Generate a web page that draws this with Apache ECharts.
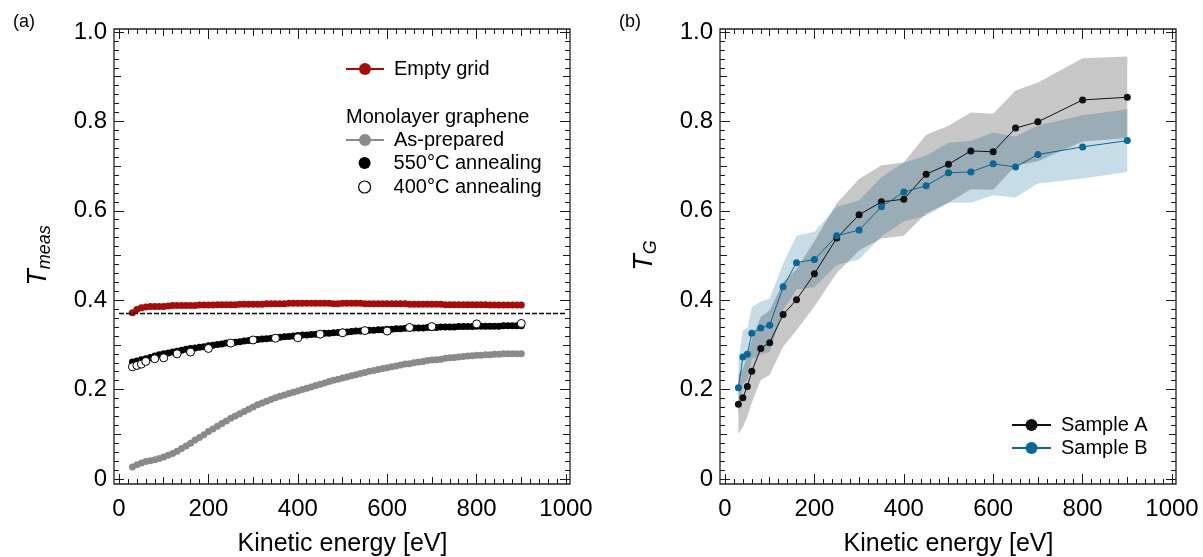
<!DOCTYPE html>
<html><head><meta charset="utf-8">
<script src="https://cdn.jsdelivr.net/npm/echarts@6/dist/echarts.min.js"></script>
<style>html,body{margin:0;padding:0;background:#fff}#c{width:1203px;height:557px}</style>
</head><body><div id="c"></div>
<script>
// ---------- data ----------
const energyFine = [
  30,40,50,60,70,80,90,100,110,120,
  130,140,150,160,170,180,190,200,210,220,
  230,240,250,260,270,280,290,300,310,320,
  330,340,350,360,370,380,390,400,410,420,
  430,440,450,460,470,480,490,500,510,520,
  530,540,550,560,570,580,590,600,610,620,
  630,640,650,660,670,680,690,700,710,720,
  730,740,750,760,770,780,790,800,810,820,
  830,840,850,860,870,880,890,900];
const emptyGrid = [
  .372,.379,.383,.385,.386,.386,.386,.386,.387,.388,
  .388,.388,.388,.388,.388,.389,.389,.389,.389,.390,
  .390,.390,.390,.390,.391,.391,.391,.391,.391,.391,
  .392,.392,.392,.392,.392,.393,.393,.393,.393,.393,
  .393,.393,.393,.393,.393,.392,.392,.393,.393,.393,
  .393,.393,.392,.392,.392,.392,.392,.392,.392,.392,
  .392,.392,.391,.391,.391,.391,.391,.391,.391,.391,
  .390,.390,.390,.390,.390,.390,.390,.390,.390,.390,
  .389,.389,.389,.389,.389,.389,.389,.389];
const asPrepared = [
  .027,.032,.036,.039,.041,.043,.046,.049,.053,.057,
  .062,.068,.074,.080,.087,.093,.099,.106,.112,.118,
  .124,.130,.136,.141,.146,.151,.156,.161,.166,.170,
  .174,.178,.182,.185,.188,.191,.194,.197,.200,.203,
  .206,.209,.212,.215,.218,.221,.223,.226,.228,.231,
  .233,.236,.238,.241,.243,.245,.247,.249,.251,.253,
  .255,.257,.258,.260,.262,.263,.265,.266,.267,.268,
  .270,.271,.272,.273,.274,.275,.276,.277,.277,.278,
  .278,.279,.279,.280,.280,.280,.280,.280];
const anneal550 = [
  .262,.264,.267,.269,.272,.275,.278,.280,.282,.284,
  .286,.288,.290,.292,.293,.295,.296,.298,.299,.301,
  .302,.304,.305,.306,.307,.309,.310,.311,.312,.313,
  .314,.315,.316,.317,.318,.319,.320,.321,.322,.322,
  .323,.324,.325,.326,.326,.327,.328,.329,.329,.330,
  .331,.331,.332,.333,.333,.334,.334,.335,.335,.336,
  .336,.337,.337,.338,.338,.338,.339,.339,.339,.340,
  .340,.340,.340,.341,.341,.341,.341,.342,.342,.342,
  .342,.342,.342,.343,.343,.343,.343,.343];
const energyCoarse = [30,40,50,60,80,100,130,160,200,250,300,350,400,450,500,550,600,650,700,800,900];
const anneal400 = [.251,.254,.257,.263,.269,.271,.280,.284,.292,.304,.311,.315,.316,.324,.327,.332,.331,.339,.341,.347,.348];
const sampleA    = [.167,.182,.207,.241,.292,.305,.368,.401,.459,.539,.591,.620,.626,.682,.704,.734,.732,.785,.799,.848,.854];
const sampleAErr = [.067,.065,.068,.070,.071,.072,.072,.068,.073,.078,.080,.082,.082,.088,.086,.086,.085,.084,.088,.093,.091];
const sampleB    = [.204,.273,.279,.326,.338,.344,.430,.484,.491,.544,.557,.609,.642,.656,.685,.687,.705,.698,.726,.743,.757];
const sampleBErr = [.060,.060,.058,.058,.059,.060,.052,.060,.062,.065,.066,.066,.066,.067,.067,.069,.070,.068,.065,.071,.070];
const xTickLabels = ['0','200','400','600','800','1000'];
const yTickLabels = ['0','0.2','0.4','0.6','0.8','1.0'];
const refLevel = 0.37;

// ---------- styling ----------
const FF = 'Liberation Sans, Arial, Helvetica, sans-serif';
const TC = '#1a1a1a';
const RED = '#a50d0d', GRAY = '#8a8a8a', BLUE = '#0b6796';

function xAxes(g) {
  const base = {gridIndex:g, type:'value', min:0, max:1000, splitLine:{show:false}, minorSplitLine:{show:false},
                axisLine:{show:false, onZero:false}};
  return [
    Object.assign({}, base, {position:'bottom', offset:5, interval:200,
      axisTick:{inside:true, length:10, lineStyle:{color:TC, width:1}},
      minorTick:{show:true, splitNumber:10, length:5, lineStyle:{color:TC, width:1}},
      axisLabel:{margin:13, fontSize:24, color:'#000', fontFamily:FF, formatter:v=>xTickLabels[Math.round(v/200)]},
      name:'Kinetic energy [eV]', nameLocation:'middle', nameGap:48,
      nameTextStyle:{fontSize:25, color:'#000', fontFamily:FF}}),
    Object.assign({}, base, {position:'bottom', offset:5, interval:100,
      axisTick:{inside:true, length:7, lineStyle:{color:TC, width:1}}, axisLabel:{show:false}}),
    Object.assign({}, base, {position:'top', offset:3, interval:200,
      axisTick:{inside:true, length:10, lineStyle:{color:TC, width:1}},
      minorTick:{show:true, splitNumber:10, length:5, lineStyle:{color:TC, width:1}}, axisLabel:{show:false}}),
    Object.assign({}, base, {position:'top', offset:3, interval:100,
      axisTick:{inside:true, length:7, lineStyle:{color:TC, width:1}}, axisLabel:{show:false}})
  ];
}
function yAxes(g, sub, rightOff) {
  const base = {gridIndex:g, type:'value', min:0, max:1, splitLine:{show:false}, minorSplitLine:{show:false},
                axisLine:{show:false, onZero:false}};
  return [
    Object.assign({}, base, {position:'left', offset:5, interval:0.2,
      axisTick:{inside:true, length:10, lineStyle:{color:TC, width:1}},
      minorTick:{show:true, splitNumber:10, length:5, lineStyle:{color:TC, width:1}},
      axisLabel:{margin:7, fontSize:24, color:'#000', fontFamily:FF, padding:[6,0,0,0],
        formatter:v=>yTickLabels[Math.round(v/0.2)]},
      name:'{t|T}{s|'+sub+'}', nameLocation:'middle', nameGap:60,
      nameTextStyle:{color:'#000', fontFamily:FF, rich:{
        t:{fontSize:27, fontStyle:'italic', fontFamily:FF, color:'#000', lineHeight:27, padding:[0,0,5,0]},
        s:{fontSize:18, fontStyle:'italic', fontFamily:FF, color:'#000', lineHeight:18, verticalAlign:'bottom'}}}}),
    Object.assign({}, base, {position:'left', offset:5, interval:0.1,
      axisTick:{inside:true, length:7, lineStyle:{color:TC, width:1}}, axisLabel:{show:false}}),
    Object.assign({}, base, {position:'right', offset:rightOff, interval:0.2,
      axisTick:{inside:true, length:10, lineStyle:{color:TC, width:1}},
      minorTick:{show:true, splitNumber:10, length:5, lineStyle:{color:TC, width:1}}, axisLabel:{show:false}}),
    Object.assign({}, base, {position:'right', offset:rightOff, interval:0.1,
      axisTick:{inside:true, length:7, lineStyle:{color:TC, width:1}}, axisLabel:{show:false}})
  ];
}

const pairs = (xs, ys) => xs.map((x, i) => [x, ys[i]]);
const legendText = {fontSize:20, color:'#000', fontFamily:FF, padding:[0,0,0,5]};

function band(vals, errs, fill) {
  return {
    type:'custom', xAxisIndex:4, yAxisIndex:4, silent:true, clip:true, z:1,
    data:[[energyCoarse[0], vals[0]]],
    renderItem:function(params, api) {
      const upper = energyCoarse.map((x, i) => api.coord([x, vals[i] + errs[i]]));
      const lower = energyCoarse.map((x, i) => api.coord([x, vals[i] - errs[i]])).reverse();
      return {type:'polygon', shape:{points:upper.concat(lower)}, style:{fill:fill, stroke:null}};
    }
  };
}

const chart = echarts.init(document.getElementById('c'), null, {renderer:'canvas'});
chart.setOption({
  animation:false,
  backgroundColor:'#fff',
  title:[
    {text:'(a)', left:8, top:8, textStyle:{fontSize:18, fontWeight:'normal', color:'#000', fontFamily:FF}},
    {text:'(b)', left:614, top:8, textStyle:{fontSize:18, fontWeight:'normal', color:'#000', fontFamily:FF}},
    {text:'Monolayer graphene', left:341, top:102, textStyle:{fontSize:20, fontWeight:'normal', color:'#000', fontFamily:FF}}
  ],
  grid:[
    {left:119, top:32, width:447, height:447, outerBoundsMode:'none', containLabel:false},
    {left:725, top:32, width:447, height:447, outerBoundsMode:'none', containLabel:false}
  ],
  xAxis:[].concat(xAxes(0), xAxes(1)),
  yAxis:[].concat(yAxes(0, 'meas', 4), yAxes(1, 'G', 4)),
  legend:[
    {data:['Empty grid'], left:340, top:54, itemWidth:38, itemHeight:15, textStyle:legendText, selectedMode:false},
    {data:['As-prepared'], left:340, top:125, itemWidth:38, itemHeight:15, textStyle:legendText, selectedMode:false},
    {data:[{name:'550°C annealing', itemStyle:{color:'#000', opacity:1}},
           {name:'400°C annealing', itemStyle:{color:'#fff', borderColor:'#000', borderWidth:1.2, opacity:1}}],
      orient:'vertical', left:353, top:148, itemWidth:38, itemHeight:12, itemGap:4, textStyle:legendText, selectedMode:false},
    {data:['Sample A', 'Sample B'], orient:'vertical', left:1006, top:410, itemWidth:39, itemHeight:15, itemGap:3,
      textStyle:legendText, selectedMode:false}
  ],
  graphic:[
    {type:'rect', shape:{x:114, y:29, width:456, height:455}, style:{fill:'none', stroke:'#222', lineWidth:1.3}, z:100},
    {type:'rect', shape:{x:720, y:29, width:456, height:455}, style:{fill:'none', stroke:'#222', lineWidth:1.3}, z:100}
  ],
  series:[
    // left panel
    {name:'Empty grid', type:'line', xAxisIndex:0, yAxisIndex:0, data:pairs(energyFine, emptyGrid),
      symbol:'circle', symbolSize:7, showAllSymbol:true, itemStyle:{color:RED}, lineStyle:{color:RED, width:1},
      silent:true,
      markLine:{silent:true, symbol:'none', label:{show:false},
        lineStyle:{color:'#000', type:[5,2], width:1.3}, data:[{yAxis:refLevel}]}},
    {name:'As-prepared', type:'line', xAxisIndex:0, yAxisIndex:0, data:pairs(energyFine, asPrepared),
      symbol:'circle', symbolSize:7, showAllSymbol:true, itemStyle:{color:GRAY}, lineStyle:{color:GRAY, width:1}, silent:true},
    {name:'550°C annealing', type:'scatter', xAxisIndex:0, yAxisIndex:0, data:pairs(energyFine, anneal550),
      symbol:'circle', symbolSize:7, itemStyle:{color:'#000', opacity:1}, silent:true},
    {name:'400°C annealing', type:'scatter', xAxisIndex:0, yAxisIndex:0, data:pairs(energyCoarse, anneal400),
      symbol:'circle', symbolSize:8, itemStyle:{color:'#fff', borderColor:'#000', borderWidth:1, opacity:1}, silent:true, z:5},
    // right panel bands
    band(sampleB, sampleBErr, 'rgba(0,102,153,0.225)'),
    band(sampleA, sampleAErr, 'rgba(0,0,0,0.22)'),
    {name:'Sample A', type:'line', xAxisIndex:4, yAxisIndex:4, data:pairs(energyCoarse, sampleA),
      symbol:'circle', symbolSize:7, showAllSymbol:true, itemStyle:{color:'#111'}, lineStyle:{color:'#111', width:1}, silent:true, z:4},
    {name:'Sample B', type:'line', xAxisIndex:4, yAxisIndex:4, data:pairs(energyCoarse, sampleB),
      symbol:'circle', symbolSize:7, showAllSymbol:true, itemStyle:{color:BLUE}, lineStyle:{color:BLUE, width:1}, silent:true, z:4}
  ]
});
</script></body></html>
